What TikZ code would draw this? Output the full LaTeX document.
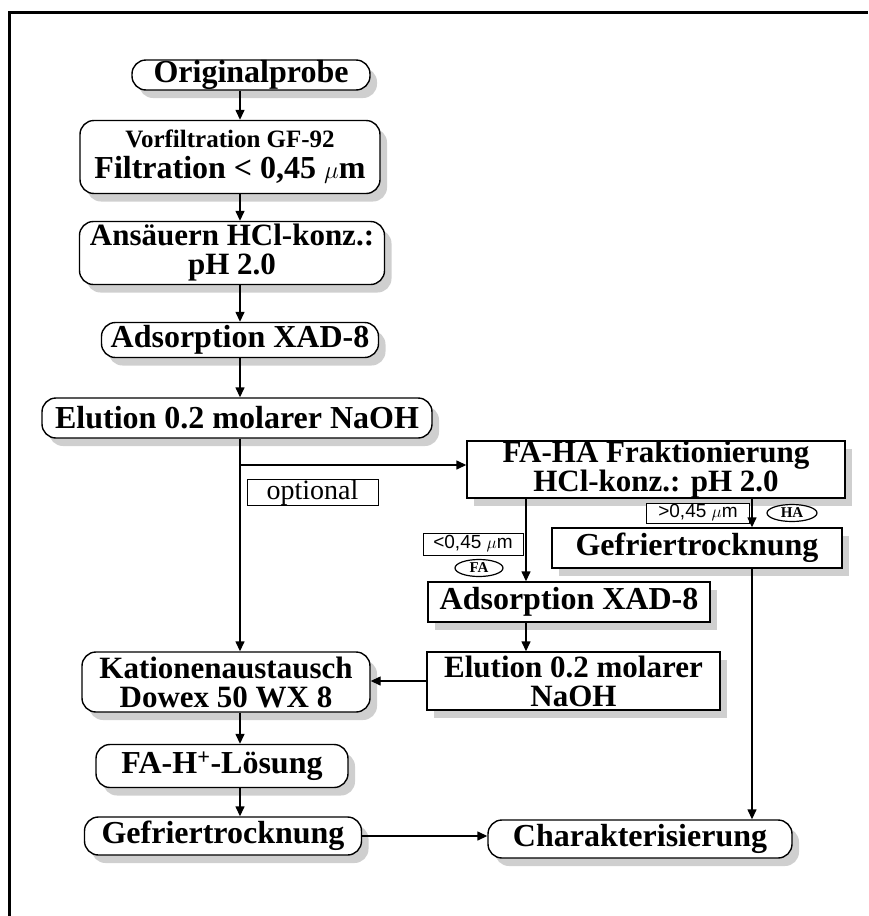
\documentclass[tikz,border=0pt]{standalone}
\usepackage{fontspec}
\setmainfont{Liberation Serif}
\setsansfont{Liberation Sans}
\usetikzlibrary{shapes.geometric,shadows,arrows.meta}

\begin{document}
\begin{tikzpicture}[x=1pt,y=-1pt,
	line width=1.4pt, >={Triangle[length=10pt,width=9pt]},
	schritt/.style={draw, fill=white, inner sep=0pt, align=center,
		font=\bfseries\fontsize{32}{30}\selectfont,
		drop shadow={shadow xshift=7pt, shadow yshift=-8pt, fill=gray!38, opacity=1}},
	rund/.style={schritt, rounded corners=14pt},
	zweizeilig/.style={font=\bfseries\fontsize{31}{29}\selectfont},
	groesse/.style={draw, fill=white, inner sep=0pt, line width=1pt,
		font=\sffamily\fontsize{19}{22}\selectfont},
	fraktion/.style={draw, ellipse, fill=white, inner sep=0pt, line width=1.2pt,
		font=\bfseries\fontsize{15}{16}\selectfont}]
	\useasboundingbox (0,0) rectangle (868,916);
	% Rahmen
	\draw [line width=3pt] (9,916) -- (9,12) -- (868,12);
	% linke Spalte
	\node [rund, minimum width=238pt, minimum height=30pt] (orig) at (251,75) {Originalprobe};
	\node [rund, minimum width=300pt, minimum height=73pt, font=\bfseries\fontsize{32}{31}\selectfont] (vorf) at (230,157)
		{{\fontsize{25}{29}\selectfont Vorfiltration GF-92}\\Filtration < 0,45 $\mu$m};
	\node [rund, zweizeilig, minimum width=305pt, minimum height=63pt] (ans) at (232,253) {Ansäuern HCl-konz.:\\pH 2.0};
	\node [rund, minimum width=277pt, minimum height=35pt] (ads1) at (240,340) {Adsorption XAD-8};
	\node [rund, minimum width=390pt, minimum height=40pt] (elu1) at (237,418) {Elution 0.2 molarer NaOH};
	\node [rund, zweizeilig, minimum width=288pt, minimum height=60pt] (kat) at (226,682) {Kationenaustausch\\Dowex 50 WX 8};
	\node [rund, minimum width=252pt, minimum height=43pt] (fah) at (222,766) {FA-H\textsuperscript{+}-Lösung};
	\node [rund, minimum width=277pt, minimum height=38pt] (gef1) at (223,836) {Gefriertrocknung};
	% rechte Spalte
	\node [schritt, zweizeilig, minimum width=378pt, minimum height=55pt] (fafa) at (656,469.5)
		{FA-HA Fraktionierung\\HCl-konz.: pH 2.0};
	\node [schritt, minimum width=290pt, minimum height=40pt] (gef2) at (697,548) {Gefriertrocknung};
	\node [schritt, minimum width=282pt, minimum height=40pt] (ads2) at (569,602) {Adsorption XAD-8};
	\node [schritt, zweizeilig, minimum width=293pt, minimum height=58pt] (elu2) at (573.5,681)
		{Elution 0.2 molarer\\NaOH};
	\node [rund, minimum width=304pt, minimum height=38pt] (char) at (640,839) {Charakterisierung};
	% Beschriftungen
	\node [draw, line width=1pt, minimum width=131pt, minimum height=25pt, inner sep=0pt,
		font=\fontsize{28}{30}\selectfont] (opt) at (312.5,492.5) {optional};
	\node [groesse, minimum width=100pt, minimum height=22pt] (klein) at (473,544) {<0,45 $\mu$m};
	\node [fraktion, minimum width=48pt, minimum height=17pt] (fa) at (479,568) {FA};
	\node [groesse, minimum width=103pt, minimum height=20pt] (gross) at (698,513) {>0,45 $\mu$m};
	\node [fraktion, minimum width=50pt, minimum height=17pt] (ha) at (792,513) {HA};
	% Pfeile
	\coordinate (sp) at (240,0);
	\coordinate (abzw) at (240,465);
	\coordinate (fax) at (526,0);
	\coordinate (hax) at (752,0);
	\draw [->] (orig.south -| sp) -- (vorf.north -| sp);
	\draw [->] (vorf.south -| sp) -- (ans.north -| sp);
	\draw [->] (ans.south -| sp) -- (ads1.north -| sp);
	\draw [->] (ads1.south -| sp) -- (elu1.north -| sp);
	\draw [->] (elu1.south -| sp) -- (kat.north -| sp);
	\draw [->] (kat.south -| sp) -- (fah.north -| sp);
	\draw [->] (fah.south -| sp) -- (gef1.north -| sp);
	\draw [->] (abzw) -- (abzw -| fafa.west);
	\draw [->] (fafa.south -| fax) -- (ads2.north -| fax);
	\draw [->] (ads2.south -| fax) -- (elu2.north -| fax);
	\draw [->] (fafa.south -| hax) -- (gef2.north -| hax);
	\draw [->] (gef2.south -| hax) -- (char.north -| hax);
	\draw [->] (elu2.west) -- (elu2.west -| kat.east);
	\draw [->] (gef1.east) -- (gef1.east -| char.west);
\end{tikzpicture}
\end{document}
